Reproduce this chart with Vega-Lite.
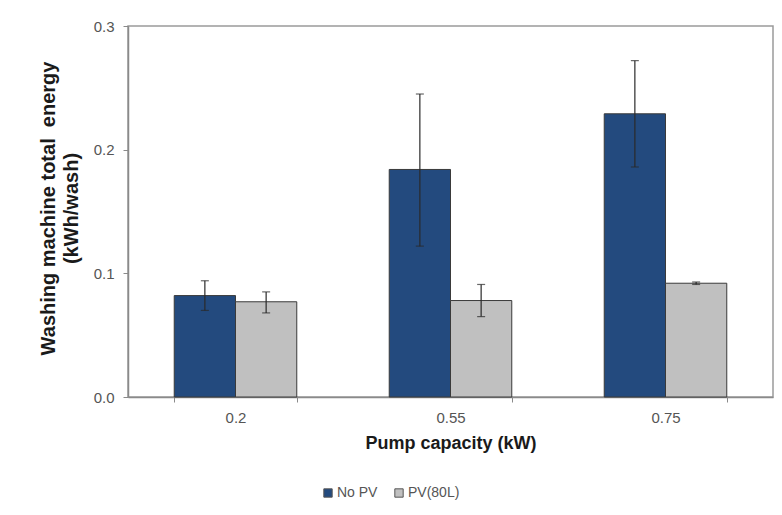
{
  "$schema": "https://vega.github.io/schema/vega-lite/v6.json",
  "autosize": "none",
  "width": 645,
  "height": 371,
  "padding": {"left": 128, "top": 26, "right": 9, "bottom": 118},
  "background": "#ffffff",
  "config": {
    "font": "Liberation Sans",
    "view": {"stroke": "#9a9a9a", "strokeWidth": 1.5}
  },
  "data": {
    "values": [
      {"pump": "0.2", "series": "No PV", "energy": 0.082, "lo": 0.070, "hi": 0.094},
      {"pump": "0.2", "series": "PV(80L)", "energy": 0.077, "lo": 0.068, "hi": 0.085},
      {"pump": "0.55", "series": "No PV", "energy": 0.184, "lo": 0.122, "hi": 0.245},
      {"pump": "0.55", "series": "PV(80L)", "energy": 0.078, "lo": 0.065, "hi": 0.091},
      {"pump": "0.75", "series": "No PV", "energy": 0.229, "lo": 0.186, "hi": 0.272},
      {"pump": "0.75", "series": "PV(80L)", "energy": 0.092, "lo": 0.091, "hi": 0.093}
    ]
  },
  "encoding": {
    "x": {
      "field": "pump",
      "type": "nominal",
      "sort": ["0.2", "0.55", "0.75"],
      "scale": {"paddingInner": 0.43, "paddingOuter": 0.215},
      "axis": {
        "title": "Pump capacity (kW)",
        "titleFont": "Liberation Sans",
        "titleFontSize": 18,
        "titleFontWeight": "bold",
        "titleColor": "#1a1a1a",
        "titlePadding": 9,
        "labelAngle": 0,
        "labelFontSize": 15,
        "labelColor": "#555555",
        "labelPadding": 8,
        "tickBand": "extent",
        "tickColor": "#8a8a8a",
        "tickSize": 5,
        "domainColor": "#8a8a8a",
        "domainWidth": 1.5
      }
    },
    "xOffset": {
      "field": "series",
      "type": "nominal",
      "sort": ["No PV", "PV(80L)"],
      "scale": {"paddingInner": 0, "paddingOuter": 0}
    }
  },
  "layer": [
    {
      "mark": {"type": "bar", "stroke": "#3a3a3a", "strokeWidth": 1},
      "encoding": {
        "y": {
          "field": "energy",
          "type": "quantitative",
          "scale": {"domain": [0, 0.3], "nice": false},
          "axis": {
            "title": ["Washing machine total \u00a0energy", "(kWh/wash)"],
            "titleFont": "Liberation Sans",
            "titleFontSize": 20,
            "titleFontWeight": "bold",
            "titleColor": "#1a1a1a",
            "titleLineHeight": 23,
            "titleBaseline": "middle",
            "titleX": -80,
            "titleY": 182,
            "titleAngle": -90,
            "values": [0, 0.1, 0.2, 0.3],
            "format": ".1f",
            "grid": false,
            "labelFontSize": 15,
            "labelColor": "#555555",
            "labelPadding": 9,
            "tickColor": "#8a8a8a",
            "tickSize": 5,
            "domainColor": "#8a8a8a",
            "domainWidth": 1.5
          }
        },
        "color": {
          "field": "series",
          "type": "nominal",
          "sort": ["No PV", "PV(80L)"],
          "scale": {"domain": ["No PV", "PV(80L)"], "range": ["#234a7e", "#c0c0c0"]},
          "legend": {
            "title": null,
            "orient": "none",
            "direction": "horizontal",
            "legendX": 193,
            "legendY": 460,
            "symbolType": "square",
            "symbolSize": 70,
            "symbolStrokeColor": "#555555",
            "symbolStrokeWidth": 1,
            "labelFontSize": 14,
            "labelColor": "#555555",
            "labelOffset": 2,
            "columnPadding": 14
          }
        }
      }
    },
    {
      "mark": {"type": "rule", "color": "#2a2a2a", "strokeWidth": 1.2},
      "encoding": {
        "y": {"field": "lo", "type": "quantitative"},
        "y2": {"field": "hi"}
      }
    },
    {
      "mark": {"type": "tick", "color": "#2a2a2a", "thickness": 1.2, "size": 8},
      "encoding": {
        "y": {"field": "lo", "type": "quantitative"}
      }
    },
    {
      "mark": {"type": "tick", "color": "#2a2a2a", "thickness": 1.2, "size": 8},
      "encoding": {
        "y": {"field": "hi", "type": "quantitative"}
      }
    }
  ]
}
